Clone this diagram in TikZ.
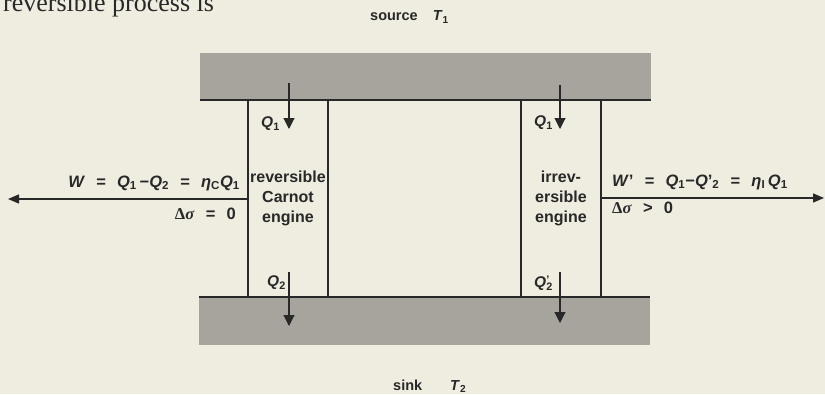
\documentclass[tikz,border=0pt]{standalone}
\usepackage{fontspec}
\setmainfont{Liberation Serif}
\setsansfont{Liberation Sans}
\usetikzlibrary{arrows.meta}
\definecolor{paper}{RGB}{239,236,224}
\definecolor{band}{RGB}{166,164,156}
\definecolor{ink}{RGB}{40,40,40}
\newcommand{\Qv}{\textit{Q}}
\newcommand{\sbs}[1]{\textsubscript{#1}}
\newcommand{\dsig}{{\rmfamily\bfseries Δ\textit{σ}}}
\newcommand{\gap}{\hspace{0.68em}}
\begin{document}
\begin{tikzpicture}[x=1pt,y=-1pt,
  bandbox/.style={fill=band,draw=none,inner sep=0,outer sep=0,anchor=north west,minimum width=451},
  engine/.style={inner sep=0,outer sep=0,minimum width=80,minimum height=197,anchor=north west,align=center,font=\sffamily\bfseries\fontsize{16}{20}\selectfont,text=ink},
  wall/.style={draw=ink,line width=1.1pt},
  edge/.style={draw=ink,line width=1.6pt},
  heat/.style={draw=ink,line width=1.1pt,-{Triangle[length=11pt,width=11pt]}},
  work/.style={draw=ink,line width=1.3pt,-{Triangle[length=11pt,width=9pt]}},
  lbl/.style={font=\sffamily\bfseries\fontsize{16.5}{20}\selectfont,text=ink,inner sep=0},
  qlbl/.style={font=\sffamily\bfseries\fontsize{15.5}{19}\selectfont,text=ink,inner sep=0,anchor=east},
  title/.style={font=\sffamily\bfseries\fontsize{14.5}{16}\selectfont,text=ink,inner sep=0,anchor=west}]
\fill[paper] (0,0) rectangle (825,394);
\useasboundingbox (0,0) rectangle (825,394);

% page text
\node[font=\rmfamily\fontsize{26}{28}\selectfont,text=ink,inner sep=0,anchor=base west] (page) at (3,11) {reversible process is};

% reservoirs
\node[bandbox,minimum height=47] (src) at (200,53) {};
\draw[edge] (src.south west) -- (src.south east);
\node[bandbox,minimum height=48] (snk) at (199,297) {};
\draw[edge] (snk.north west) -- (snk.north east);
\node[title] (srclbl) at (370,17) {source\hspace{15pt}\textit{T}\sbs{1}};
\node[title] (snklbl) at (393,386) {sink\hspace{28pt}\textit{T}\sbs{2}};

% engines
\node[engine] (e1) at (248,100) {reversible\\Carnot\\engine};
\node[engine] (e2) at (521,100) {irrev-\\ersible\\engine};
\foreach \e in {e1,e2}{
  \draw[wall] (\e.north west) -- (\e.south west);
  \draw[wall] (\e.north east) -- (\e.south east);
}

% heat arrows
\coordinate (a1s) at (289,83);  \coordinate (a1e) at (289,129);
\coordinate (a2s) at (560,85);  \coordinate (a2e) at (560,129);
\coordinate (b1s) at (289,272); \coordinate (b1e) at (289,326);
\coordinate (b2s) at (560,272); \coordinate (b2e) at (560,323);
\draw[heat] (a1s) -- (a1e);
\draw[heat] (a2s) -- (a2e);
\draw[heat] (b1s) -- (b1e);
\draw[heat] (b2s) -- (b2e);
\node[qlbl] (q1a) at (280,124) {\Qv\sbs{1}};
\node[qlbl] (q1b) at (553,123) {\Qv\sbs{1}};
\node[qlbl] (q2a) at (286,283) {\Qv\sbs{2}};
\node[qlbl] (q2b) at (553,283) {\Qv\makebox[0pt][l]{\raisebox{0.55ex}{\fontsize{11}{11}\selectfont ’}}\sbs{2}};

% work arrows
\coordinate (wl) at (8,199);
\coordinate (wr) at (824,198);
\draw[work] (e1.west |- wl) -- (wl);
\draw[work] (e2.east |- wr) -- (wr);
\node[lbl,anchor=east] (wlbl) at (240,183) {\textit{W}\gap=\gap\Qv\sbs{1}\,−\Qv\sbs{2}\gap=\gap\textit{η}\sbs{C}\Qv\sbs{1}};
\node[lbl,anchor=east] (slbl) at (236,214) {\dsig\gap=\gap0};
\node[lbl,anchor=west] (wrlbl) at (612,182) {\textit{W}’\gap=\gap\Qv\sbs{1}−\Qv’\sbs{2}\gap=\gap\textit{η}\sbs{I}\,\Qv\sbs{1}};
\node[lbl,anchor=west] (srlbl) at (612,208) {\dsig\gap\textgreater\gap0};
\end{tikzpicture}
\end{document}
